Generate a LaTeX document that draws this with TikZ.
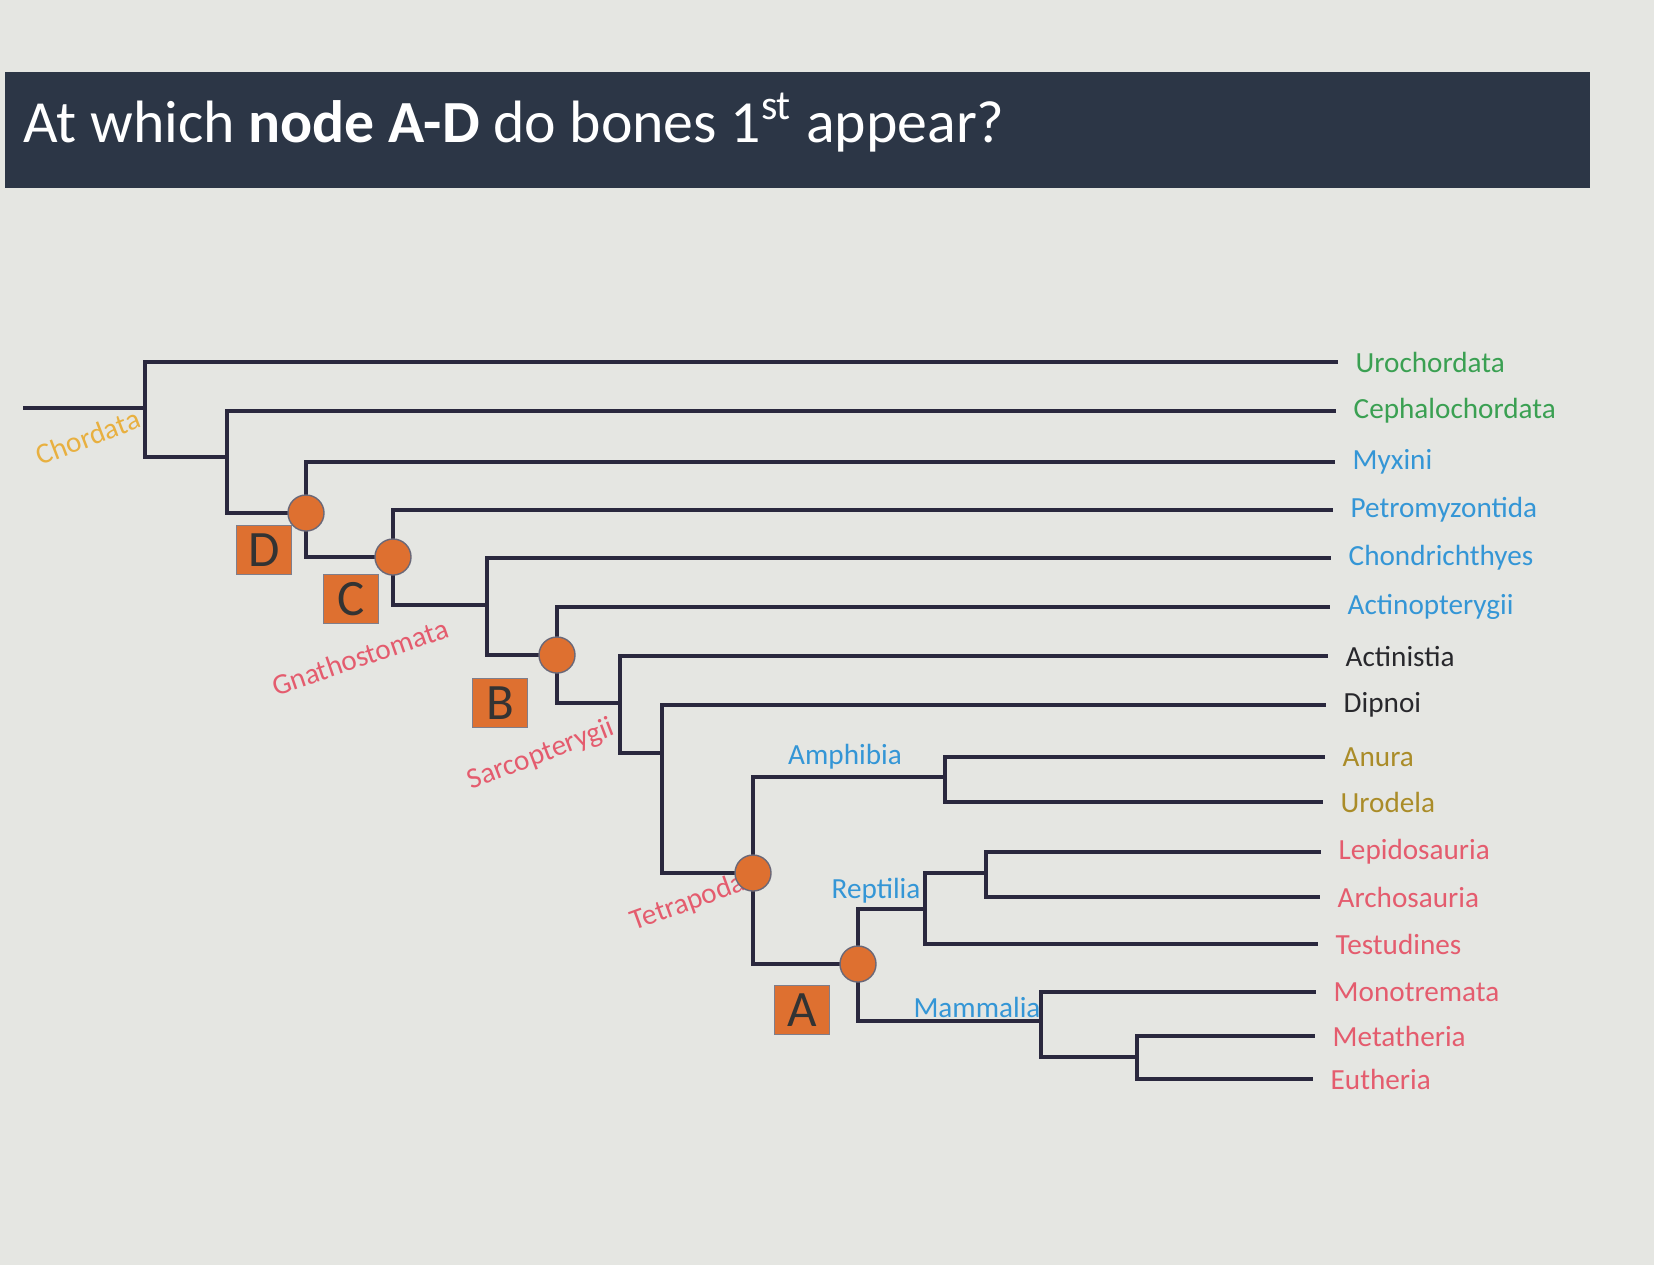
\documentclass[tikz,border=0pt]{standalone}
\usepackage{fontspec}
\setmainfont{Carlito}
\usetikzlibrary{positioning}

\definecolor{bgpaper}{RGB}{229,230,226}
\definecolor{titlebar}{RGB}{44,54,70}
\definecolor{branch}{RGB}{42,40,62}
\definecolor{nodeorange}{RGB}{222,112,48}
\definecolor{cladegreen}{RGB}{58,160,82}
\definecolor{cladeblue}{RGB}{52,150,214}
\definecolor{cladeolive}{RGB}{170,140,40}
\definecolor{cladered}{RGB}{228,92,110}
\definecolor{cladeyellow}{RGB}{232,176,64}
\definecolor{leafblack}{RGB}{40,40,44}

\begin{document}
\begin{tikzpicture}[
  x=0.01cm, y=-0.01cm,
  br/.style={line width=1.3pt, draw=branch},
  dot/.style={circle, fill=nodeorange, draw=branch!70, thin, minimum size=0.36cm, inner sep=0pt},
  tagbox/.style={rectangle, fill=nodeorange, draw=branch!60, thin, minimum width=0.55cm,
    minimum height=0.49cm, inner sep=0pt, text=black!80, font=\fontsize{14.5}{16}\selectfont},
  leaf/.style={anchor=west, inner sep=0pt, font=\fontsize{8.3}{10}\selectfont},
  clade/.style={inner sep=0pt, font=\fontsize{8.3}{10}\selectfont}
]
  % --- page and question bar ---------------------------------------------
  \useasboundingbox (0,0) rectangle (1654,1265);
  \fill[bgpaper] (0,0) rectangle (1654,1265);
  \fill[titlebar] (5,72) rectangle (1590,188);
  \node[anchor=base west, inner sep=0pt, text=white, font=\fontsize{17}{20}\selectfont]
    (question) at (23,142) {At which \textbf{node A-D} do bones 1\textsuperscript{st} appear?};

  % --- branching points (x of the split, y where the stem comes in) ------
  \coordinate (root)   at (23,408);
  \coordinate (nChord) at (145,408);
  \coordinate (nCeph)  at (227,457);
  \coordinate (nCran)  at (306,513);
  \coordinate (nVert)  at (393,557);
  \coordinate (nGnath) at (487,605);
  \coordinate (nOst)   at (557,655);
  \coordinate (nSarc)  at (620,703);
  \coordinate (nRhip)  at (662,753);
  \coordinate (nTetra) at (753,873);
  \coordinate (nAmph)  at (945,777);
  \coordinate (nAmni)  at (858,964);
  \coordinate (nRept)  at (925,909);
  \coordinate (nArch)  at (986,873);
  \coordinate (nMamm)  at (1041,1021);
  \coordinate (nTher)  at (1137,1057);

  % --- tips and taxon names (the slide leans a little to the left) -------
  \coordinate (tUro) at (1338,362);
  \coordinate (tCep) at (1336,411);
  \coordinate (tMyx) at (1335,462);
  \coordinate (tPet) at (1333,510);
  \coordinate (tCho) at (1331,558);
  \coordinate (tAcp) at (1330,607);
  \coordinate (tAcs) at (1328,656);
  \coordinate (tDip) at (1326,705);
  \coordinate (tAnu) at (1325,757);
  \coordinate (tUrd) at (1323,802);
  \coordinate (tLep) at (1321,852);
  \coordinate (tArc) at (1320,897);
  \coordinate (tTes) at (1318,944);
  \coordinate (tMon) at (1316,992);
  \coordinate (tMet) at (1315,1036);
  \coordinate (tEut) at (1313,1079);

  \node[leaf, text=cladegreen, right=17 of tUro] (lUro) {Urochordata};
  \node[leaf, text=cladegreen, right=17 of tCep] (lCep) {Cephalochordata};
  \node[leaf, text=cladeblue,  right=17 of tMyx] (lMyx) {Myxini};
  \node[leaf, text=cladeblue,  right=17 of tPet] (lPet) {Petromyzontida};
  \node[leaf, text=cladeblue,  right=17 of tCho] (lCho) {Chondrichthyes};
  \node[leaf, text=cladeblue,  right=17 of tAcp] (lAcp) {Actinopterygii};
  \node[leaf, text=leafblack,  right=17 of tAcs] (lAcs) {Actinistia};
  \node[leaf, text=leafblack,  right=17 of tDip] (lDip) {Dipnoi};
  \node[leaf, text=cladeolive, right=17 of tAnu] (lAnu) {Anura};
  \node[leaf, text=cladeolive, right=17 of tUrd] (lUrd) {Urodela};
  \node[leaf, text=cladered,   right=17 of tLep] (lLep) {Lepidosauria};
  \node[leaf, text=cladered,   right=17 of tArc] (lArc) {Archosauria};
  \node[leaf, text=cladered,   right=17 of tTes] (lTes) {Testudines};
  \node[leaf, text=cladered,   right=17 of tMon] (lMon) {Monotremata};
  \node[leaf, text=cladered,   right=17 of tMet] (lMet) {Metatheria};
  \node[leaf, text=cladered,   right=17 of tEut] (lEut) {Eutheria};

  % --- branches -----------------------------------------------------------
  \draw[br] (root) -- (nChord);
  \draw[br] (nChord) |- (tUro);  \draw[br] (nChord) |- (nCeph);
  \draw[br] (nCeph)  |- (tCep);  \draw[br] (nCeph)  |- (nCran);
  \draw[br] (nCran)  |- (tMyx);  \draw[br] (nCran)  |- (nVert);
  \draw[br] (nVert)  |- (tPet);  \draw[br] (nVert)  |- (nGnath);
  \draw[br] (nGnath) |- (tCho);  \draw[br] (nGnath) |- (nOst);
  \draw[br] (nOst)   |- (tAcp);  \draw[br] (nOst)   |- (nSarc);
  \draw[br] (nSarc)  |- (tAcs);  \draw[br] (nSarc)  |- (nRhip);
  \draw[br] (nRhip)  |- (tDip);  \draw[br] (nRhip)  |- (nTetra);
  \draw[br] (nTetra) |- (nAmph); \draw[br] (nTetra) |- (nAmni);
  \draw[br] (nAmph)  |- (tAnu);  \draw[br] (nAmph)  |- (tUrd);
  \draw[br] (nAmni)  |- (nRept); \draw[br] (nAmni)  |- (nMamm);
  \draw[br] (nRept)  |- (nArch); \draw[br] (nRept)  |- (tTes);
  \draw[br] (nArch)  |- (tLep);  \draw[br] (nArch)  |- (tArc);
  \draw[br] (nMamm)  |- (tMon);  \draw[br] (nMamm)  |- (nTher);
  \draw[br] (nTher)  |- (tMet);  \draw[br] (nTher)  |- (tEut);

  % --- clade names ----------------------------------------------------------
  \node[clade, text=cladeyellow, rotate=21] (cChord) at (88,437)  {Chordata};
  \node[clade, text=cladered,    rotate=19] (cGnath) at (360,657) {Gnathostomata};
  \node[clade, text=cladered,    rotate=21] (cSarc)  at (541,755) {Sarcopterygii};
  \node[clade, text=cladered,    rotate=20] (cTetra) at (688,903) {Tetrapoda};
  \node[clade, text=cladeblue] (cAmph) at (845,757)  {Amphibia};
  \node[clade, text=cladeblue] (cRept) at (876,891)  {Reptilia};
  \node[clade, text=cladeblue] (cMamm) at (977,1007) {Mammalia};

  % --- answer nodes A-D ---------------------------------------------------
  \node[dot] (dotD) at (nCran) {};
  \node[dot] (dotC) at (nVert) {};
  \node[dot] (dotB) at (nOst) {};
  \node[dot] (dotT) at (nTetra) {};
  \node[dot] (dotA) at (nAmni) {};

  \node[tagbox] (tagD) at (264,550)  {D};
  \node[tagbox] (tagC) at (351,599)  {C};
  \node[tagbox] (tagB) at (500,703)  {B};
  \node[tagbox] (tagA) at (802,1010) {A};
\end{tikzpicture}
\end{document}
